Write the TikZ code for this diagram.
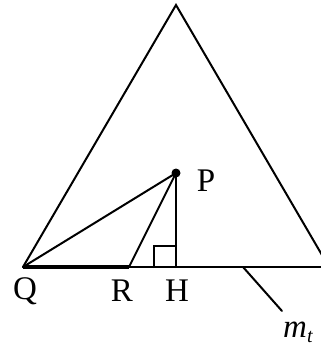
\documentclass[tikz,border=0pt]{standalone}
\usepackage{fontspec}
\setmainfont{Liberation Serif}
\usetikzlibrary{positioning}

\begin{document}
\begin{tikzpicture}[
  x=1pt, y=-1pt,
  edge/.style={line width=2pt, line cap=round, line join=miter},
  lbl/.style={font=\fontsize{33}{36}\selectfont, inner sep=0pt}
]
\useasboundingbox (0,0) rectangle (321,349);
\clip (0,0) rectangle (321,349);
% points
\coordinate (A) at (176,5);
\coordinate (Q) at (23,267);
\coordinate (B) at (329,267);
\coordinate (R) at (129,267);
\coordinate (H) at (176,267);
\coordinate (P) at (176,173);
\coordinate (E) at (325,267);
\coordinate (M1) at (243,267);
\coordinate (M2) at (282,311);

% big triangle and base
\draw[edge] (Q) -- (A) -- (B);
\draw[edge] (Q) -- (E);
\draw[line width=4.5pt] (Q) -- (R);
\draw[edge] (Q) -- (P) -- (R);
\draw[edge] (P) -- (H);
\draw[edge] ([xshift=-22pt]H) -- ++(0,-21) -- ++(22,0);
\draw[edge] (M1) -- (M2);
\fill (P) circle (4.5pt);

% labels
\node[lbl] (pl) at (206,181) {P};
\node[lbl] (ql) at (25,291) {Q};
\node[lbl] (rl) at (122,291) {R};
\node[lbl] (hl) at (177,291) {H};
\node[lbl, anchor=base west] (ml) at (283,337) {\itshape m\raisebox{-5pt}{\fontsize{20}{22}\selectfont t}};
\end{tikzpicture}
\end{document}
